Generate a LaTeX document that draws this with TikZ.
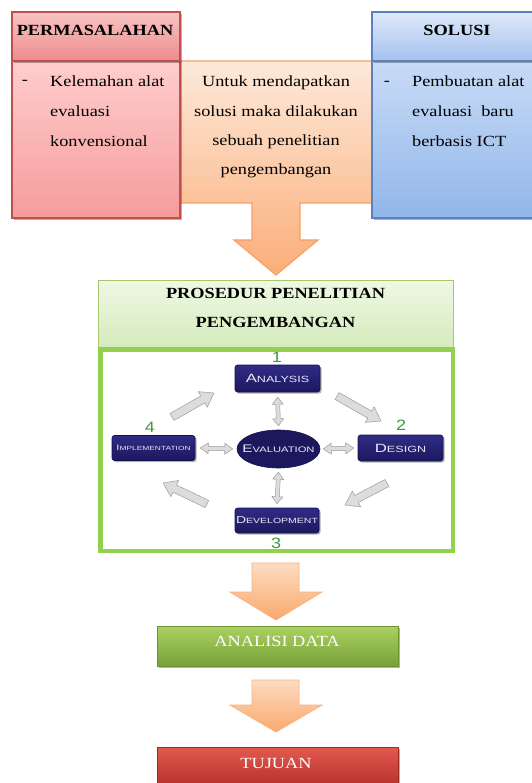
\documentclass[tikz,border=0pt]{standalone}
\usepackage{fontspec}
\setmainfont[FakeStretch=1.18]{Liberation Serif}
\newfontfamily\cpfont[FakeStretch=1.4]{Liberation Sans}
\newfontfamily\numfont[FakeStretch=1.2]{Liberation Sans}
\usetikzlibrary{shapes.geometric,shadows,calc}

\definecolor{redB}{HTML}{C0504D}
\definecolor{rh1}{HTML}{F8C3C3}
\definecolor{rh2}{HTML}{EE8C8C}
\definecolor{rb1}{HTML}{FFCDCD}
\definecolor{rb2}{HTML}{F59C9C}
\definecolor{blueB}{HTML}{5A82BE}
\definecolor{bh1}{HTML}{DEE9FA}
\definecolor{bh2}{HTML}{A6C1EE}
\definecolor{bb1}{HTML}{C8DBF6}
\definecolor{bb2}{HTML}{92B6EA}
\definecolor{orB}{HTML}{F6A064}
\definecolor{or1}{HTML}{FDE9DA}
\definecolor{or2}{HTML}{FBAE79}
\definecolor{oa1}{HTML}{FDDCC2}
\definecolor{oa2}{HTML}{F9A96C}
\definecolor{gh1}{HTML}{EFF8E4}
\definecolor{gh2}{HTML}{D5EBBD}
\definecolor{ghB}{HTML}{A6C76E}
\definecolor{frameG}{HTML}{92D050}
\definecolor{ad1}{HTML}{ABD060}
\definecolor{ad2}{HTML}{76A239}
\definecolor{adB}{HTML}{6E9432}
\definecolor{tu1}{HTML}{E35A4E}
\definecolor{tu2}{HTML}{B5302A}
\definecolor{tuB}{HTML}{9E2A24}
\definecolor{navy1}{HTML}{302C86}
\definecolor{navy2}{HTML}{1C185E}
\definecolor{navyB}{HTML}{14114A}
\definecolor{numG}{HTML}{3C9A3C}
\definecolor{arrG}{HTML}{DCDCDC}
\definecolor{arrGB}{HTML}{9C9C9C}
\definecolor{boxtxt}{HTML}{E8E8F4}

\tikzset{
  bx/.style={draw, line width=1.2pt, inner sep=0pt},
  shd/.style={drop shadow={shadow xshift=2pt, shadow yshift=-2pt, opacity=0.3, fill=black}},
  redhead/.style={bx, shd, draw=redB, top color=rh1, bottom color=rh2, minimum width=168pt, minimum height=49pt},
  redbody/.style={bx, shd, draw=redB, top color=rb1, bottom color=rb2, minimum width=168pt, minimum height=157pt},
  bluehead/.style={bx, shd, draw=blueB, top color=bh1, bottom color=bh2, minimum width=166pt, minimum height=49pt},
  bluebody/.style={bx, shd, draw=blueB, top color=bb1, bottom color=bb2, minimum width=166pt, minimum height=157pt},
  orangebx/.style={draw=orB, line width=1.2pt, top color=or1, bottom color=or2},
  orarrow/.style={draw=orB!80, line width=0.8pt, top color=oa1, bottom color=oa2},
  greenhead/.style={bx, draw=ghB, line width=0.8pt, top color=gh1, bottom color=gh2, minimum width=355pt, minimum height=67pt},
  gframe/.style={draw=frameG, line width=4.5pt, fill=white, minimum width=352.5pt, minimum height=201.5pt, inner sep=0pt},
  adbox/.style={bx, shd, draw=adB, line width=0.8pt, top color=ad1, bottom color=ad2, minimum width=241pt, minimum height=40pt},
  tubox/.style={bx, shd, draw=tuB, line width=0.8pt, top color=tu1, bottom color=tu2, minimum width=241pt, minimum height=40pt},
  navybox/.style={draw=navyB, line width=0.6pt, top color=navy1, bottom color=navy2, rounded corners=2.5pt,
     inner sep=0pt, text=boxtxt, font=\cpfont,
     drop shadow={shadow xshift=1.5pt, shadow yshift=-1.5pt, opacity=0.3, fill=black}},
  evalbox/.style={ellipse, draw=navyB, line width=0.6pt, fill=navy2, inner xsep=-8pt, inner ysep=0pt,
     text=boxtxt, font=\cpfont, minimum width=83pt, minimum height=38pt},
  numtxt/.style={text=numG, font=\numfont\fontsize{15}{15}\selectfont, inner sep=0pt},
  bodytxt/.style={font=\fontsize{15.5}{30}\selectfont, inner sep=0pt},
  headtxt/.style={font=\fontsize{15.5}{29}\selectfont\bfseries, inner sep=0pt},
  grayarr/.style={fill=arrG, draw=arrGB, line width=0.5pt, line join=round},
}

\newcommand\grayarrow[5]{%
  \path (#1); \pgfgetlastxy{\gax}{\gay}%
  \path (#2); \pgfgetlastxy{\gbx}{\gby}%
  \pgfmathsetmacro\gang{atan2(\gby-\gay,\gbx-\gax)}%
  \pgfmathsetmacro\glen{veclen(\gbx-\gax,\gby-\gay)}%
  \pgfmathsetmacro\ghb{\glen-#5}%
  \filldraw[grayarr, shift={(\gax,\gay)}, rotate=\gang]
    (0pt,-#3pt) -- (\ghb pt,-#3pt) -- (\ghb pt,-#4pt) -- (\glen pt,0pt)
    -- (\ghb pt,#4pt) -- (\ghb pt,#3pt) -- (0pt,#3pt) -- cycle;
}
\newcommand\graydarrow[5]{%
  \path (#1); \pgfgetlastxy{\gax}{\gay}%
  \path (#2); \pgfgetlastxy{\gbx}{\gby}%
  \pgfmathsetmacro\gang{atan2(\gby-\gay,\gbx-\gax)}%
  \pgfmathsetmacro\glen{veclen(\gbx-\gax,\gby-\gay)}%
  \pgfmathsetmacro\ghb{\glen-#5}%
  \filldraw[grayarr, shift={(\gax,\gay)}, rotate=\gang]
    (0pt,0pt) -- (#5pt,-#4pt) -- (#5pt,-#3pt) -- (\ghb pt,-#3pt) -- (\ghb pt,-#4pt) -- (\glen pt,0pt)
    -- (\ghb pt,#4pt) -- (\ghb pt,#3pt) -- (#5pt,#3pt) -- (#5pt,#4pt) -- cycle;
}

\begin{document}
\begin{tikzpicture}[x=1pt,y=-1pt]
\useasboundingbox (0,0) rectangle (531,783);
\fill[white] (0,0) rectangle (531,783);

% orange middle box with first arrow
\draw[orangebx] (180,61) -- (372,61) -- (372,203) -- (300,203) -- (300,240) -- (318,240)
  -- (276,275) -- (234,240) -- (252,240) -- (252,203) -- (180,203) -- cycle;
\node[bodytxt, align=center] (otext) at (276,127)
  {Untuk mendapatkan\\[-0.7pt]solusi maka dilakukan\\[-0.7pt]sebuah penelitian\\[-0.7pt]pengembangan};

% red column
\node[redbody] (permb) at (96,139.5) {};
\node[redhead] (perm) at (96,36.5) {};
\node[headtxt] (permt) at (95,30) {PERMASALAHAN};
\node[bodytxt] (permd) at (25,82) {-};
\node[bodytxt, align=left, anchor=west] (permx) at (50,111)
  {Kelemahan alat\\evaluasi\\konvensional};

% blue column
\node[bluebody] (solb) at (455,139.5) {};
\node[bluehead] (sol) at (455,36.5) {};
\node[headtxt] (solt) at (457,30) {SOLUSI};
\node[bodytxt] (sold) at (387,83) {-};
\node[bodytxt, align=left, anchor=west] (solx) at (412,111)
  {Pembuatan alat\\evaluasi\ \ baru\\berbasis ICT};

% procedure header and frame
\node[greenhead] (proh) at (275.5,313.5) {};
\node[headtxt, align=center] (prot) at (275.5,307.5) {PROSEDUR PENELITIAN\\PENGEMBANGAN};
\node[gframe] (frame) at (276.5,450) {};

% cycle diagram
\node[navybox, minimum width=85pt, minimum height=27pt] (ana) at (277.5,378.5)
  {\fontsize{12}{12}\selectfont A\fontsize{9}{9}\selectfont NALYSIS};
\node[navybox, minimum width=85pt, minimum height=26pt] (des) at (400.5,448)
  {\fontsize{12}{12}\selectfont D\fontsize{9}{9}\selectfont ESIGN};
\node[navybox, minimum width=83pt, minimum height=25pt] (imp) at (153.5,448)
  {\fontsize{8}{8}\selectfont I\fontsize{6}{6}\selectfont MPLEMENTATION};
\node[navybox, minimum width=84pt, minimum height=25pt] (dev) at (277,520.5)
  {\fontsize{10}{10}\selectfont D\fontsize{7.5}{7.5}\selectfont EVELOPMENT};
\node[evalbox] (eval) at (278.5,449)
  {\fontsize{11}{11}\selectfont E\fontsize{8}{8}\selectfont VALUATION};

\node[numtxt] (n1) at (277,357) {1};
\node[numtxt] (n2) at (401,425) {2};
\node[numtxt] (n3) at (276,543) {3};
\node[numtxt] (n4) at (150,427) {4};

% double arrows to/from evaluation
\graydarrow{$(ana.south)+(0,5)$}{$(eval.north)+(0,-4)$}{2}{5.5}{7}
\graydarrow{$(eval.south)+(0,4)$}{$(dev.north)+(0,-4)$}{2}{5.5}{7}
\graydarrow{$(imp.east)+(5,0)$}{$(eval.west)+(-4,0)$}{2}{5.5}{8}
\graydarrow{$(eval.east)+(3,0)$}{$(des.west)+(-4,0)$}{2}{5.5}{8}

% cycle arrows
\coordinate (a1s) at (172,417); \coordinate (a1e) at (214,393);
\coordinate (a2s) at (337,396); \coordinate (a2e) at (381,421);
\coordinate (a3s) at (387,483); \coordinate (a3e) at (345,505);
\coordinate (a4s) at (207,504); \coordinate (a4e) at (163,483);
\grayarrow{a1s}{a1e}{4}{9}{13}
\grayarrow{a2s}{a2e}{4}{9}{13}
\grayarrow{a3s}{a3e}{4}{9}{13}
\grayarrow{a4s}{a4e}{4}{9}{13}

% lower arrows and boxes
\node[adbox] (ad) at (277.5,646) {};
\node[font=\fontsize{15.5}{15.5}\selectfont, text=white, inner sep=0pt] (adt) at (277,641) {ANALISI DATA};
\node[tubox] (tu) at (277.5,767) {};
\node[font=\fontsize{15.5}{15.5}\selectfont, text=white, inner sep=0pt] (tut) at (276,763) {TUJUAN};

\draw[orarrow] (252,563) -- (299,563) -- (299,592) -- (322,592) -- (276,620) -- (230,592) -- (252,592) -- cycle;
\draw[orarrow] (252,680) -- (299,680) -- (299,705) -- (322,705) -- (276,732) -- (230,705) -- (252,705) -- cycle;
\end{tikzpicture}
\end{document}
